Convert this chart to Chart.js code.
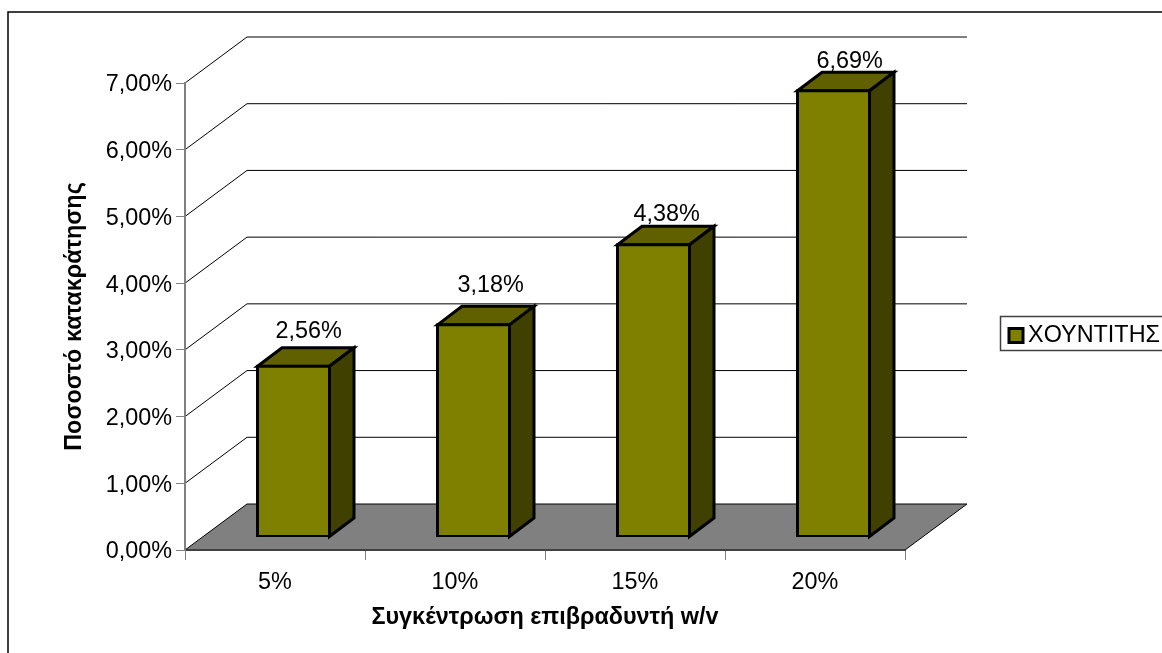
<!DOCTYPE html>
<html>
<head>
<meta charset="utf-8">
<title>Ποσοστό κατακράτησης</title>
<script src="https://cdn.jsdelivr.net/npm/chart.js@4"></script>
<style>
    html, body { margin: 0; padding: 0; background: #fff; overflow: hidden; }
    canvas { display: block; }
</style>
</head>
<body>
<canvas id="chart" width="1162" height="653"></canvas>
<script>
const categories = ["5%", "10%", "15%", "20%"];
const retention = [2.56, 3.18, 4.38, 6.69];
const seriesName = "ΧΟΥΝΤΙΤΗΣ";
const xTitle = "Συγκέντρωση επιβραδυντή w/v";
const yTitle = "Ποσοστό κατακράτησης";

const FONT = "'Liberation Sans', Arial, sans-serif";
const FONT_SIZE = 23.4;

// Depth of the 3D box and of each column, in pixels
const WALL_DX = 62, WALL_DY = -46;
const BAR_SHIFT_X = 18.5, BAR_SHIFT_Y = -13;
const BAR_DX = 24.5, BAR_DY = -18.5;

// Value labels sit a little off the column top, by hand per column
const labelNudgeX = [3, 5, 1, 4];
const labelNudgeY = [-16, -21, -12, -11];

function percent(v) {
    return v.toFixed(2).replace(".", ",") + "%";
}

function poly(ctx, pts, fill, stroke, lineWidth) {
    ctx.beginPath();
    pts.forEach((p, i) => i ? ctx.lineTo(p[0], p[1]) : ctx.moveTo(p[0], p[1]));
    ctx.closePath();
    if (fill) { ctx.fillStyle = fill; ctx.fill(); }
    if (stroke) { ctx.strokeStyle = stroke; ctx.lineWidth = lineWidth; ctx.stroke(); }
}

const box3d = {
    id: "box3d",

    // Legend has no layout slot of its own here, park it right of the box
    afterLayout(chart) {
        const legend = chart.legend;
        legend.left = 1000;
        legend.right = 1160;
        legend.top = 318;
        legend.bottom = 353;
    },

    // Page frame, floor and back wall lines go under the axes
    beforeDraw(chart) {
        const { ctx, scales: { x, y } } = chart;
        const left = x.left, right = x.right, base = y.getPixelForValue(0);

        ctx.save();
        ctx.fillStyle = "#fff";
        ctx.fillRect(0, 0, chart.width, chart.height);
        ctx.strokeStyle = "#000";
        ctx.lineWidth = 1.5;
        ctx.strokeRect(8, 12, 1200, 700);

        poly(ctx, [
            [left, base], [left + WALL_DX, base + WALL_DY],
            [right + WALL_DX, base + WALL_DY], [right, base]
        ], "#808080", "#000", 1);

        ctx.strokeStyle = "#000";
        ctx.lineWidth = 1;
        y.ticks.forEach(t => {
            if (t.value === 0) return;
            const py = y.getPixelForValue(t.value);
            ctx.beginPath();
            ctx.moveTo(left, py);
            ctx.lineTo(left + WALL_DX, py + WALL_DY);
            ctx.lineTo(right + WALL_DX, py + WALL_DY);
            ctx.stroke();
        });

        // Frame around the legend
        ctx.strokeStyle = "#404040";
        ctx.lineWidth = 1.5;
        ctx.strokeRect(1000.5, 316.5, 170, 34);
        ctx.restore();
    },

    // Top and side faces first, then shift the canvas so the library's bar is the front face
    beforeDatasetDraw(chart, args) {
        const { ctx } = chart;
        ctx.save();
        ctx.lineJoin = "miter";
        args.meta.data.forEach(bar => {
            const half = bar.width / 2;
            const l = bar.x - half + BAR_SHIFT_X, r = bar.x + half + BAR_SHIFT_X;
            const t = bar.y + BAR_SHIFT_Y, b = bar.base + BAR_SHIFT_Y;
            poly(ctx, [[l, t], [l + BAR_DX, t + BAR_DY], [r + BAR_DX, t + BAR_DY], [r, t]], "#606000", "#000", 3);
            poly(ctx, [[r, t], [r + BAR_DX, t + BAR_DY], [r + BAR_DX, b + BAR_DY], [r, b]], "#404000", "#000", 3);
        });
        ctx.translate(BAR_SHIFT_X, BAR_SHIFT_Y);
    },

    afterDatasetDraw(chart) {
        chart.ctx.restore();
    },

    afterDatasetsDraw(chart) {
        const { ctx } = chart;
        ctx.save();
        ctx.font = FONT_SIZE + "px " + FONT;
        ctx.fillStyle = "#000";
        ctx.textAlign = "center";
        ctx.textBaseline = "middle";
        chart.getDatasetMeta(0).data.forEach((bar, i) => {
            ctx.fillText(
                percent(retention[i]),
                bar.x + BAR_SHIFT_X + BAR_DX / 2 + labelNudgeX[i],
                bar.y + BAR_SHIFT_Y + BAR_DY + labelNudgeY[i]
            );
        });
        ctx.restore();
    }
};

new Chart(document.getElementById("chart"), {
    type: "bar",
    plugins: [box3d],
    data: {
        labels: categories,
        datasets: [{
            label: seriesName,
            data: retention,
            backgroundColor: "#808000",
            borderColor: "#000",
            borderWidth: 3,
            borderSkipped: false,
            inflateAmount: 1.5,
            barPercentage: 0.4,
            categoryPercentage: 1
        }]
    },
    options: {
        responsive: false,
        animation: false,
        layout: { padding: { left: 61, top: 83, right: 257, bottom: 21 } },
        plugins: {
            tooltip: { enabled: false },
            legend: {
                position: "chartArea",
                labels: {
                    boxWidth: 14,
                    boxHeight: 14,
                    padding: 9,
                    textAlign: "right",
                    color: "#000",
                    font: { family: FONT, size: FONT_SIZE }
                }
            }
        },
        scales: {
            x: {
                afterFit(scale) { scale.height = 82; },
                border: { color: "#404040", width: 1 },
                grid: { offset: true, drawOnChartArea: false, color: "#808080", tickLength: 10, tickWidth: 1 },
                ticks: { color: "#000", padding: 9, maxRotation: 0, font: { family: FONT, size: FONT_SIZE } },
                title: {
                    display: true,
                    text: xTitle,
                    color: "#000",
                    padding: { top: 10, bottom: 0 },
                    font: { family: FONT, size: FONT_SIZE, weight: "bold" }
                }
            },
            y: {
                min: 0,
                max: 7,
                afterFit(scale) { scale.width = 124; },
                border: { color: "#808080", width: 2 },
                grid: { drawOnChartArea: false, color: "#808080", tickLength: 9, tickWidth: 1 },
                ticks: {
                    stepSize: 1,
                    color: "#000",
                    padding: 4,
                    labelOffset: 2,
                    font: { family: FONT, size: FONT_SIZE },
                    callback: v => percent(v)
                },
                title: {
                    display: true,
                    text: yTitle,
                    color: "#000",
                    padding: { top: 0, bottom: 0 },
                    font: { family: FONT, size: FONT_SIZE, weight: "bold" }
                }
            }
        }
    }
});
</script>
</body>
</html>
